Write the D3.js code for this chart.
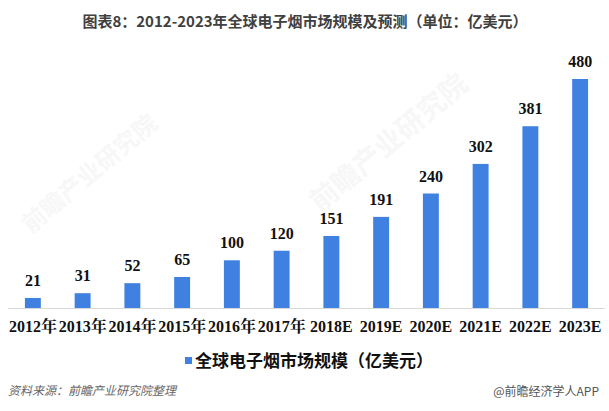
<!DOCTYPE html>
<html>
<head>
<meta charset="utf-8">
<script src="https://cdn.jsdelivr.net/npm/d3@7"></script>
<style>
  html, body { margin: 0; padding: 0; background: #ffffff; }
  svg { display: block; }
</style>
</head>
<body>
<svg id="chart" width="609" height="411"></svg>
<script>
const categories = ["2012年", "2013年", "2014年", "2015年", "2016年", "2017年",
                    "2018E", "2019E", "2020E", "2021E", "2022E", "2023E"];
const values = [21, 31, 52, 65, 100, 120, 151, 191, 240, 302, 381, 480];
const seriesName = "全球电子烟市场规模（亿美元）";
const titleText = "图表8：2012-2023年全球电子烟市场规模及预测（单位：亿美元）";
const sourceText = "资料来源：前瞻产业研究院整理";
const creditText = "@前瞻经济学人APP";

const W = 609, H = 411;
const svg = d3.select("#chart");
const barColor = "#3f80e0";
const serif = "'Liberation Serif', 'Noto Serif CJK SC', 'Noto Sans CJK SC', serif";
const sans = "'Noto Sans CJK SC', 'Microsoft YaHei', sans-serif";

// faint watermarks
const wm = [
  { x: 395, y: 150, s: 28 },
  { x: 95, y: 180, s: 24 }
];
svg.append("g").selectAll("text").data(wm).join("text")
  .attr("transform", d => `translate(${d.x},${d.y}) rotate(-40)`)
  .attr("text-anchor", "middle")
  .attr("font-family", sans)
  .attr("font-weight", "bold")
  .attr("font-size", d => d.s)
  .attr("fill", "#f7f7f7")
  .text("前瞻产业研究院");

const x = d3.scaleBand().domain(categories).range([8, 605])
  .paddingInner(0.68).paddingOuter(0.34);
const y = d3.scaleLinear().domain([0, 480]).range([308, 79]);

// title
svg.append("text")
  .attr("x", 305).attr("y", 27)
  .attr("text-anchor", "middle")
  .attr("font-family", sans)
  .attr("font-weight", "bold")
  .attr("font-size", 15)
  .attr("fill", "#404040")
  .text(titleText);

// bars
svg.append("g").selectAll("rect").data(values).join("rect")
  .attr("x", (d, i) => x(categories[i]))
  .attr("y", d => y(d))
  .attr("width", x.bandwidth())
  .attr("height", d => y(0) - y(d))
  .attr("fill", barColor);

// value labels
svg.append("g").selectAll("text").data(values).join("text")
  .attr("x", (d, i) => x(categories[i]) + x.bandwidth() / 2)
  .attr("y", d => y(d) - 12)
  .attr("text-anchor", "middle")
  .attr("font-family", serif)
  .attr("font-weight", "bold")
  .attr("font-size", 16)
  .attr("fill", "#111")
  .text(d => d);

// x axis
const xAxis = svg.append("g")
  .attr("transform", `translate(0,${y(0)})`)
  .call(d3.axisBottom(x).tickSize(0).tickPadding(13));
xAxis.select(".domain").attr("stroke", "#d9d9d9").attr("stroke-width", 1)
  .attr("d", "M8,0.5H605");
xAxis.selectAll("text")
  .attr("font-family", serif)
  .attr("font-weight", "bold")
  .attr("font-size", 16)
  .attr("fill", "#111");

// legend
const lg = svg.append("g");
lg.append("rect").attr("x", 185).attr("y", 357).attr("width", 7).attr("height", 7).attr("fill", barColor);
lg.append("text")
  .attr("x", 195).attr("y", 367)
  .attr("font-family", sans)
  .attr("font-weight", "bold")
  .attr("font-size", 17)
  .attr("fill", "#111")
  .text(seriesName);

// footer
svg.append("text")
  .attr("x", 8).attr("y", 395)
  .attr("font-family", sans)
  .attr("font-style", "italic")
  .attr("font-size", 12)
  .attr("fill", "#666")
  .text(sourceText);
svg.append("text")
  .attr("x", 599).attr("y", 396)
  .attr("text-anchor", "end")
  .attr("font-family", sans)
  .attr("font-size", 12)
  .attr("fill", "#555")
  .text(creditText);
</script>
</body>
</html>
